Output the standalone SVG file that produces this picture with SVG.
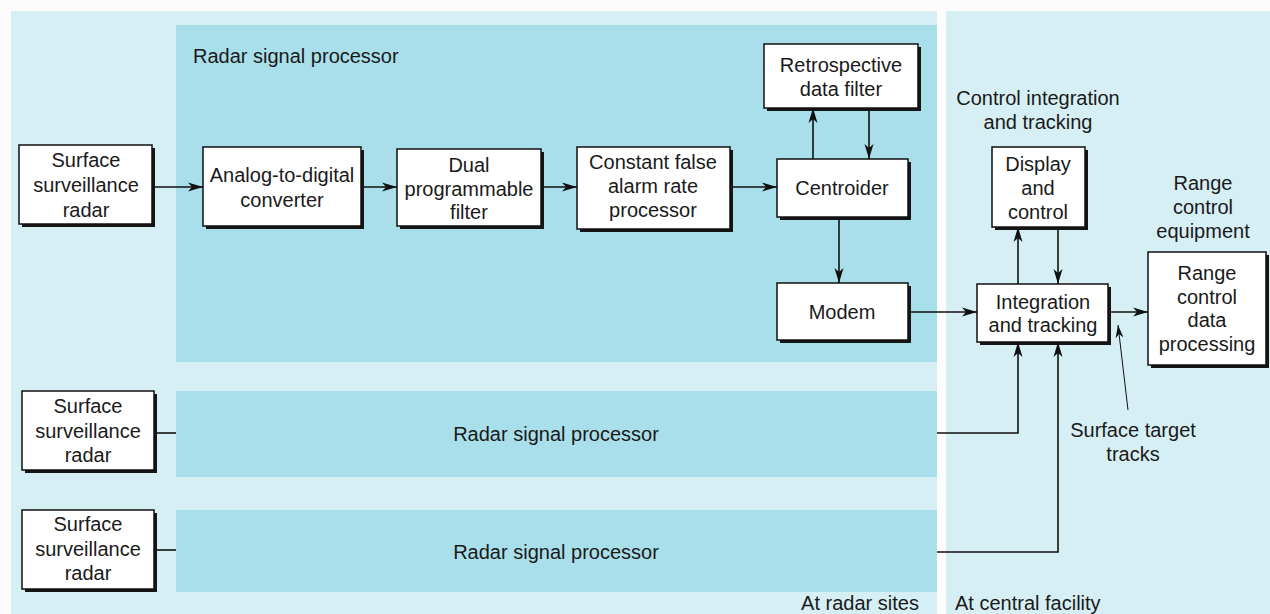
<svg xmlns="http://www.w3.org/2000/svg" width="1270" height="614" viewBox="0 0 1270 614">
<defs>
<marker id="ah" markerUnits="userSpaceOnUse" markerWidth="16" markerHeight="10" viewBox="-15 -5 16 10" refX="0" refY="0" orient="auto">
<path d="M-15,-4.5 L0,0 L-15,4.5 L-11,0 Z" fill="#111"/>
</marker>
<marker id="ahs" markerUnits="userSpaceOnUse" markerWidth="14" markerHeight="10" viewBox="-13 -5 14 10" refX="0" refY="0" orient="auto">
<path d="M-13,-4 L0,0 L-13,4 L-9,0 Z" fill="#111"/>
</marker>
</defs>
<style>
text{font-family:"Liberation Sans",Arial,sans-serif;font-size:20px;fill:#1a1a1a;text-anchor:middle}
.l{text-anchor:start}
.sh{fill:#151515}
.bx{fill:#fff;stroke:#111;stroke-width:1.5}
.c{fill:none;stroke:#111;stroke-width:1.6}
</style>
<rect x="0" y="0" width="1270" height="614" fill="#fdfcfd"/>
<rect x="11" y="11" width="926" height="603" fill="#d6eff4"/>
<rect x="946" y="11" width="324" height="603" fill="#d6eff4"/>
<rect x="176" y="25" width="761" height="337" fill="#a9dfea"/>
<rect x="176" y="391" width="761" height="86" fill="#a9dfea"/>
<rect x="176" y="510" width="761" height="82" fill="#a9dfea"/>
<text class="l" x="193" y="63">Radar signal processor</text>
<text x="556" y="441">Radar signal processor</text>
<text x="556" y="559">Radar signal processor</text>
<text x="1038" y="105">Control integration</text>
<text x="1038" y="129">and tracking</text>
<text x="1203" y="190">Range</text>
<text x="1203" y="214">control</text>
<text x="1203" y="238">equipment</text>
<text x="1133" y="437">Surface target</text>
<text x="1133" y="461">tracks</text>
<text x="860" y="610">At radar sites</text>
<text class="l" x="955" y="610">At central facility</text>
<g id="connectors">
<path class="c" d="M152,187 H203" marker-end="url(#ah)"/>
<path class="c" d="M362,187 H397" marker-end="url(#ah)"/>
<path class="c" d="M542,187 H577" marker-end="url(#ah)"/>
<path class="c" d="M731,187 H777" marker-end="url(#ah)"/>
<path class="c" d="M813,159 V108" marker-end="url(#ah)"/>
<path class="c" d="M869,110 V159" marker-end="url(#ah)"/>
<path class="c" d="M839,218 V283" marker-end="url(#ah)"/>
<path class="c" d="M909,312 H977" marker-end="url(#ah)"/>
<path class="c" d="M1018,284 V227" marker-end="url(#ah)"/>
<path class="c" d="M1058,229 V284" marker-end="url(#ah)"/>
<path class="c" d="M1109,312 H1148" marker-end="url(#ah)"/>
<path class="c" d="M937,433 H1018 V342" marker-end="url(#ah)"/>
<path class="c" d="M937,552 H1058 V342" marker-end="url(#ah)"/>
<path class="c" d="M154,433 H176"/>
<path class="c" d="M154,550 H176"/>
<path fill="none" stroke="#111" stroke-width="1" d="M1128,410 L1118,325" marker-end="url(#ahs)"/>
</g>
<g id="radar1"><rect class="sh" x="22" y="148" width="133" height="79"/><rect class="bx" x="19" y="145" width="133" height="79"/>
<text x="86" y="167">Surface</text><text x="86" y="192">surveillance</text><text x="86" y="217">radar</text></g>
<g id="adc"><rect class="sh" x="206" y="150" width="158" height="79"/><rect class="bx" x="203" y="147" width="158" height="79"/>
<text x="282" y="182">Analog-to-digital</text><text x="282" y="207">converter</text></g>
<g id="dual"><rect class="sh" x="400" y="152" width="144" height="77"/><rect class="bx" x="397" y="149" width="144" height="77"/>
<text x="469" y="172">Dual</text><text x="469" y="196">programmable</text><text x="469" y="219">filter</text></g>
<g id="cfar"><rect class="sh" x="580" y="150" width="153" height="82"/><rect class="bx" x="577" y="147" width="153" height="82"/>
<text x="653" y="169">Constant false</text><text x="653" y="193">alarm rate</text><text x="653" y="217">processor</text></g>
<g id="retro"><rect class="sh" x="767" y="47" width="154" height="64"/><rect class="bx" x="764" y="44" width="154" height="64"/>
<text x="841" y="72">Retrospective</text><text x="841" y="96">data filter</text></g>
<g id="centroider"><rect class="sh" x="780" y="162" width="131" height="58"/><rect class="bx" x="777" y="159" width="131" height="58"/>
<text x="842" y="195">Centroider</text></g>
<g id="modem"><rect class="sh" x="780" y="286" width="131" height="57"/><rect class="bx" x="777" y="283" width="131" height="57"/>
<text x="842" y="319">Modem</text></g>
<g id="display"><rect class="sh" x="995" y="150" width="93" height="80"/><rect class="bx" x="992" y="147" width="93" height="80"/>
<text x="1038" y="171">Display</text><text x="1038" y="195">and</text><text x="1038" y="219">control</text></g>
<g id="integration"><rect class="sh" x="980" y="287" width="131" height="58"/><rect class="bx" x="977" y="284" width="131" height="58"/>
<text x="1043" y="309">Integration</text><text x="1043" y="332">and tracking</text></g>
<g id="rangecdp"><rect class="sh" x="1151" y="255" width="118" height="113"/><rect class="bx" x="1148" y="252" width="118" height="113"/>
<text x="1207" y="280">Range</text><text x="1207" y="304">control</text><text x="1207" y="327">data</text><text x="1207" y="351">processing</text></g>
<g id="radar2"><rect class="sh" x="25" y="394" width="132" height="79"/><rect class="bx" x="22" y="391" width="132" height="79"/>
<text x="88" y="413">Surface</text><text x="88" y="438">surveillance</text><text x="88" y="462">radar</text></g>
<g id="radar3"><rect class="sh" x="25" y="513" width="132" height="79"/><rect class="bx" x="22" y="510" width="132" height="79"/>
<text x="88" y="531">Surface</text><text x="88" y="556">surveillance</text><text x="88" y="580">radar</text></g>
</svg>
